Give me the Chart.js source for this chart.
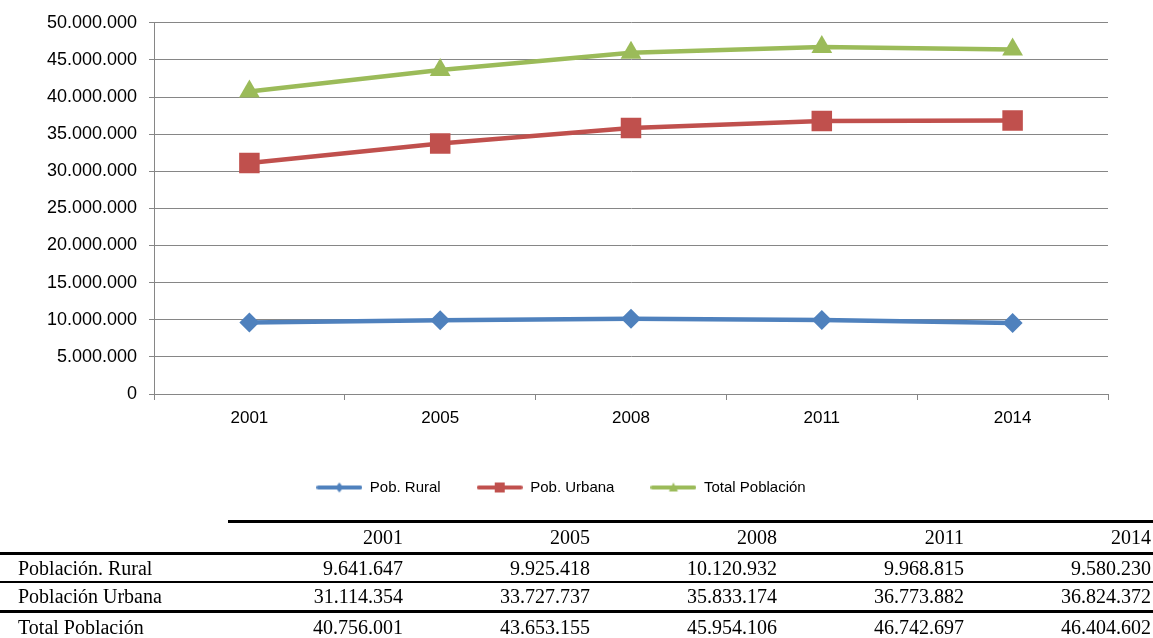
<!DOCTYPE html>
<html>
<head>
<meta charset="utf-8">
<script src="https://cdn.jsdelivr.net/npm/chart.js@4.4.1/dist/chart.umd.min.js"></script>
<style>
  body { margin: 0; background: #fff; width: 1153px; height: 638px; overflow: hidden; position: relative; }
  #wrap { position: absolute; left: 0; top: 0; width: 1153px; height: 505px; }
  #tbl { position: absolute; left: 0; top: 0; width: 1153px; height: 638px; font-family: 'Liberation Serif', 'Times New Roman', serif; font-size: 20px; color: #000; pointer-events: none; }
  .row { position: absolute; left: 0; width: 1153px; display: flex; white-space: nowrap; }
  .lab { width: 200px; padding-left: 18px; text-align: left; }
  .num { width: 185px; padding-right: 2px; text-align: right; }
  .rule { position: absolute; background: #000; }
</style>
</head>
<body>
<div id="wrap"><canvas id="PopCanvas"></canvas></div>
<div id="tbl"></div>
<script>
const years = ['2001', '2005', '2008', '2011', '2014']
const rural = [9641647, 9925418, 10120932, 9968815, 9580230]
const urbana = [31114354, 33727737, 35833174, 36773882, 36824372]
const total = [40756001, 43653155, 45954106, 46742697, 46404602]
const legendNames = ['Pob. Rural', 'Pob. Urbana', 'Total Población']
const rowNames = ['Población. Rural', 'Población Urbana', 'Total Población']

const colors = ['#4F81BD', '#C0504D', '#9BBB59']

function fmt(v) {
    return String(Math.round(v)).replace(/\B(?=(\d{3})+(?!\d))/g, '.')
}

// small line + marker icon used in the legend
function legendIcon(color, kind) {
    const c = document.createElement('canvas')
    c.width = 46
    c.height = 14
    const g = c.getContext('2d')
    g.strokeStyle = color
    g.fillStyle = color
    g.lineWidth = 4
    g.lineCap = 'round'
    g.beginPath()
    g.moveTo(2, 7)
    g.lineTo(44, 7)
    g.stroke()
    g.beginPath()
    if (kind == 'diamond') {
        g.moveTo(23, 2); g.lineTo(27, 7); g.lineTo(23, 12); g.lineTo(19, 7)
    } else if (kind == 'square') {
        g.rect(18, 2, 10, 10)
    } else {
        g.moveTo(23, 2); g.lineTo(27.5, 11); g.lineTo(18.5, 11)
    }
    g.closePath()
    g.fill()
    return c
}
const icons = [legendIcon(colors[0], 'diamond'), legendIcon(colors[1], 'square'), legendIcon(colors[2], 'triangle')]

Chart.defaults.font.family = "'Liberation Sans', Arial, sans-serif"
Chart.defaults.color = '#000'

const popChart = new Chart(document.getElementById('PopCanvas'), {
    type: 'line',
    data: {
        labels: years,
        datasets: [
            { label: legendNames[0], data: rural, borderColor: colors[0], backgroundColor: colors[0],
              borderWidth: 4.5, pointStyle: 'rectRot', pointRadius: 10, pointBorderWidth: 0 },
            { label: legendNames[1], data: urbana, borderColor: colors[1], backgroundColor: colors[1],
              borderWidth: 4.5, pointStyle: 'rect', pointRadius: 14.5, pointBorderWidth: 0 },
            { label: legendNames[2], data: total, borderColor: colors[2], backgroundColor: colors[2],
              borderWidth: 4.5, pointStyle: 'triangle', pointRadius: 12, pointBorderWidth: 0 }
        ]
    },
    options: {
        responsive: true,
        maintainAspectRatio: false,
        animation: false,
        layout: { padding: { left: 14, right: 45, top: 21, bottom: 0 } },
        plugins: {
            tooltip: { enabled: false },
            legend: {
                position: 'bottom',
                labels: {
                    usePointStyle: true,
                    pointStyleWidth: 46,
                    padding: 36,
                    font: { size: 15 },
                    generateLabels: chart => chart.data.datasets.map((ds, i) => ({
                        text: ds.label,
                        pointStyle: icons[i],
                        fillStyle: ds.borderColor,
                        strokeStyle: ds.borderColor,
                        lineWidth: 0,
                        hidden: false,
                        datasetIndex: i
                    }))
                }
            }
        },
        scales: {
            x: {
                offset: true,
                grid: { offset: true, drawOnChartArea: false, drawTicks: true, tickLength: 6, color: '#868686' },
                border: { color: '#868686', width: 1 },
                ticks: { font: { size: 17 }, padding: 8 },
                afterFit: scale => { scale.height = 50 }
            },
            y: {
                min: 0,
                max: 50000000,
                grid: { color: '#868686', lineWidth: 1, tickLength: 5 },
                border: { color: '#868686', width: 1 },
                ticks: { stepSize: 5000000, font: { size: 18 }, padding: 12, callback: v => fmt(v) },
                afterFit: scale => { scale.width = 140 }
            }
        }
    }
})

// table below the chart
const tbl = document.getElementById('tbl')
function addRule(left, top, width, height) {
    const d = document.createElement('div')
    d.className = 'rule'
    d.style.left = left + 'px'
    d.style.top = top + 'px'
    d.style.width = width + 'px'
    d.style.height = height + 'px'
    tbl.appendChild(d)
}
function addRow(top, height, label, values) {
    const r = document.createElement('div')
    r.className = 'row'
    r.style.top = top + 'px'
    r.style.height = height + 'px'
    r.style.lineHeight = height + 'px'
    let html = '<div class="lab">' + label + '</div>'
    values.forEach(v => { html += '<div class="num">' + v + '</div>' })
    r.innerHTML = html
    tbl.appendChild(r)
}
addRule(228, 520, 925, 3)
addRow(523, 29, '', years)
addRule(0, 552, 1153, 3)
addRow(555, 26, rowNames[0], rural.map(fmt))
addRule(0, 581, 1153, 2)
addRow(583, 27, rowNames[1], urbana.map(fmt))
addRule(0, 610, 1153, 3)
addRow(613, 28, rowNames[2], total.map(fmt))
</script>
</body>
</html>
